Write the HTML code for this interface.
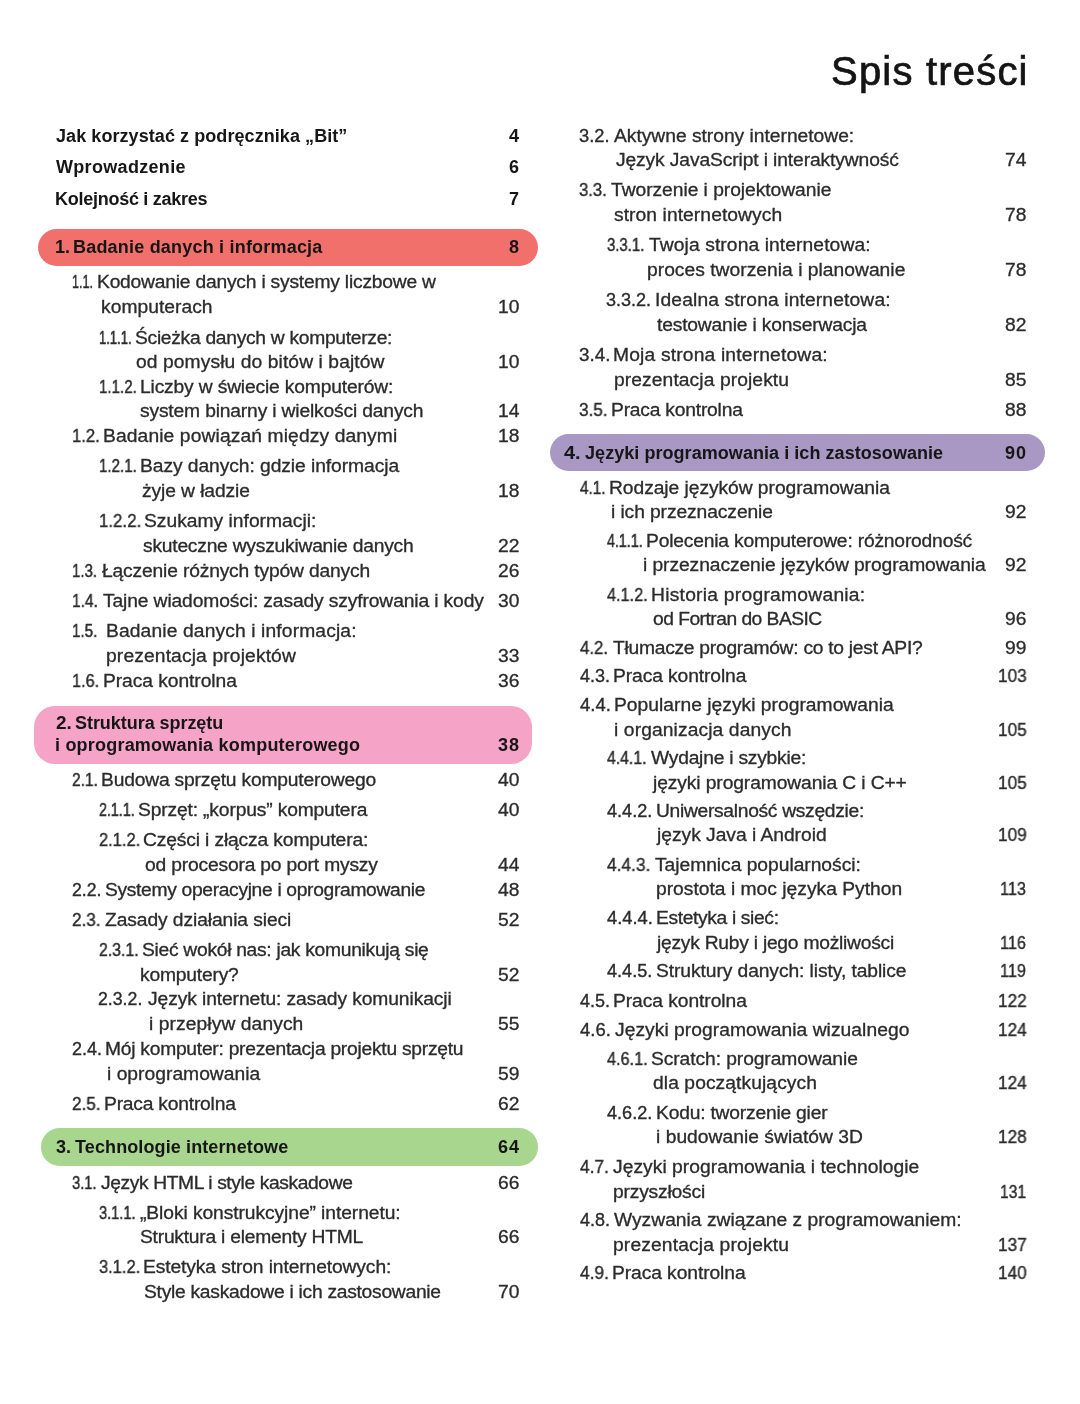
<!DOCTYPE html>
<html lang="pl"><head><meta charset="utf-8"><title>Spis treści</title>
<style>
html,body{margin:0;padding:0;background:#fff}
body{width:1080px;height:1404px;position:relative;overflow:hidden;font-family:"Liberation Sans",sans-serif}
.band{position:absolute}
.r,.b,.t{position:absolute;white-space:pre;transform-origin:0 0;will-change:transform}
.r{font-size:17.5px;line-height:24px;height:24px;color:#2b2b2b;transform:scaleX(1.1);-webkit-text-stroke:0.3px #2b2b2b}
.b{font-size:18.0px;line-height:24px;height:24px;color:#161616;font-weight:700;transform:scaleX(1.0)}
.t{font-size:40.0px;line-height:48px;height:48px;color:#141414;transform:scaleX(1.0);-webkit-text-stroke:0.7px #141414}
</style></head>
<body>
<div class="band" style="left:37.5px;top:228.75px;width:500.5px;height:37.5px;border-radius:18.75px;background:#f2706c"></div>
<div class="band" style="left:33.75px;top:706px;width:498.25px;height:58px;border-radius:21px;background:#f5a3c6"></div>
<div class="band" style="left:40.5px;top:1128.25px;width:497.5px;height:37.5px;border-radius:18.75px;background:#a9d68f"></div>
<div class="band" style="left:550px;top:433.75px;width:495px;height:37.5px;border-radius:18.75px;background:#a898c3"></div>
<div class="b" style="left:56.00px;top:123.51px;letter-spacing:0.070px">Jak korzystać z podręcznika „Bit”</div>
<div class="b" style="left:56.00px;top:154.76px;letter-spacing:0.318px">Wprowadzenie</div>
<div class="b" style="left:55.00px;top:186.76px;letter-spacing:-0.265px">Kolejność i zakres</div>
<div class="b" style="left:55.02px;top:234.76px;letter-spacing:0.000px;transform:scaleX(0.9808)">1.</div>
<div class="b" style="left:72.75px;top:234.76px;letter-spacing:0.202px">Badanie danych i informacja</div>
<div class="r" style="left:72.28px;top:269.94px;letter-spacing:0.000px;transform:scaleX(0.7222);-webkit-text-stroke-width:0.53px">1.1.</div>
<div class="r" style="left:96.90px;top:269.94px;letter-spacing:-0.193px">Kodowanie danych i systemy liczbowe w</div>
<div class="r" style="left:100.65px;top:294.94px;letter-spacing:0.023px">komputerach</div>
<div class="r" style="left:98.76px;top:325.69px;letter-spacing:0.000px;transform:scaleX(0.7440);-webkit-text-stroke-width:0.51px">1.1.1.</div>
<div class="r" style="left:135.15px;top:325.69px;letter-spacing:-0.266px">Ścieżka danych w komputerze:</div>
<div class="r" style="left:136.25px;top:350.19px;letter-spacing:0.079px">od pomysłu do bitów i bajtów</div>
<div class="r" style="left:98.64px;top:374.94px;letter-spacing:0.000px;transform:scaleX(0.8631);-webkit-text-stroke-width:0.44px">1.1.2.</div>
<div class="r" style="left:140.15px;top:374.94px;letter-spacing:-0.150px">Liczby w świecie komputerów:</div>
<div class="r" style="left:139.65px;top:399.44px;letter-spacing:-0.152px">system binarny i wielkości danych</div>
<div class="r" style="left:72.05px;top:424.44px;letter-spacing:0.000px;transform:scaleX(0.9537);-webkit-text-stroke-width:0.39px">1.2.</div>
<div class="r" style="left:103.15px;top:424.44px;letter-spacing:0.100px">Badanie powiązań między danymi</div>
<div class="r" style="left:98.64px;top:454.44px;letter-spacing:0.000px;transform:scaleX(0.8631);-webkit-text-stroke-width:0.44px">1.2.1.</div>
<div class="r" style="left:140.15px;top:454.44px;letter-spacing:-0.063px">Bazy danych: gdzie informacja</div>
<div class="r" style="left:141.75px;top:478.94px;letter-spacing:-0.087px">żyje w ładzie</div>
<div class="r" style="left:98.54px;top:509.44px;letter-spacing:0.000px;transform:scaleX(0.9643);-webkit-text-stroke-width:0.38px">1.2.2.</div>
<div class="r" style="left:144.40px;top:509.44px;letter-spacing:0.005px">Szukamy informacji:</div>
<div class="r" style="left:143.40px;top:533.94px;letter-spacing:-0.211px">skuteczne wyszukiwanie danych</div>
<div class="r" style="left:72.14px;top:558.94px;letter-spacing:0.000px;transform:scaleX(0.8611);-webkit-text-stroke-width:0.44px">1.3.</div>
<div class="r" style="left:101.75px;top:558.94px;letter-spacing:-0.153px">Łączenie różnych typów danych</div>
<div class="r" style="left:72.11px;top:589.44px;letter-spacing:0.000px;transform:scaleX(0.8889);-webkit-text-stroke-width:0.43px">1.4.</div>
<div class="r" style="left:102.50px;top:589.44px;letter-spacing:-0.116px">Tajne wiadomości: zasady szyfrowania i kody</div>
<div class="r" style="left:72.13px;top:619.44px;letter-spacing:0.000px;transform:scaleX(0.8704);-webkit-text-stroke-width:0.44px">1.5.</div>
<div class="r" style="left:106.40px;top:619.44px;letter-spacing:0.111px">Badanie danych i informacja:</div>
<div class="r" style="left:106.40px;top:643.94px;letter-spacing:0.118px">prezentacja projektów</div>
<div class="r" style="left:72.06px;top:668.69px;letter-spacing:0.000px;transform:scaleX(0.9352);-webkit-text-stroke-width:0.40px">1.6.</div>
<div class="r" style="left:102.65px;top:668.69px;letter-spacing:-0.062px">Praca kontrolna</div>
<div class="b" style="left:56.00px;top:710.51px;letter-spacing:0.000px;transform:scaleX(1.0536)">2.</div>
<div class="b" style="left:74.75px;top:710.51px;letter-spacing:-0.047px">Struktura sprzętu</div>
<div class="b" style="left:55.00px;top:732.51px;letter-spacing:0.207px">i oprogramowania komputerowego</div>
<div class="r" style="left:72.11px;top:767.94px;letter-spacing:0.000px;transform:scaleX(0.8889);-webkit-text-stroke-width:0.43px">2.1.</div>
<div class="r" style="left:101.40px;top:767.94px;letter-spacing:-0.173px">Budowa sprzętu komputerowego</div>
<div class="r" style="left:98.68px;top:798.19px;letter-spacing:0.000px;transform:scaleX(0.8155);-webkit-text-stroke-width:0.47px">2.1.1.</div>
<div class="r" style="left:138.15px;top:798.19px;letter-spacing:-0.140px">Sprzęt: „korpus” komputera</div>
<div class="r" style="left:98.56px;top:828.19px;letter-spacing:0.000px;transform:scaleX(0.9405);-webkit-text-stroke-width:0.40px">2.1.2.</div>
<div class="r" style="left:143.40px;top:828.19px;letter-spacing:-0.131px">Części i złącza komputera:</div>
<div class="r" style="left:144.50px;top:853.19px;letter-spacing:-0.167px">od procesora po port myszy</div>
<div class="r" style="left:71.99px;top:877.69px;letter-spacing:0.000px;transform:scaleX(1.0093);-webkit-text-stroke-width:0.35px">2.2.</div>
<div class="r" style="left:104.65px;top:877.69px;letter-spacing:-0.301px">Systemy operacyjne i oprogramowanie</div>
<div class="r" style="left:72.02px;top:907.69px;letter-spacing:0.000px;transform:scaleX(0.9815);-webkit-text-stroke-width:0.37px">2.3.</div>
<div class="r" style="left:105.00px;top:907.69px;letter-spacing:-0.087px">Zasady działania sieci</div>
<div class="r" style="left:98.60px;top:938.19px;letter-spacing:0.000px;transform:scaleX(0.9048);-webkit-text-stroke-width:0.42px">2.3.1.</div>
<div class="r" style="left:141.90px;top:938.19px;letter-spacing:-0.263px">Sieć wokół nas: jak komunikują się</div>
<div class="r" style="left:139.65px;top:962.69px;letter-spacing:-0.177px">komputery?</div>
<div class="r" style="left:98.49px;top:987.44px;letter-spacing:0.000px;transform:scaleX(1.0119);-webkit-text-stroke-width:0.35px">2.3.2.</div>
<div class="r" style="left:147.50px;top:987.44px;letter-spacing:-0.088px">Język internetu: zasady komunikacji</div>
<div class="r" style="left:148.90px;top:1011.94px;letter-spacing:0.074px">i przepływ danych</div>
<div class="r" style="left:71.97px;top:1036.94px;letter-spacing:0.000px;transform:scaleX(1.0278);-webkit-text-stroke-width:0.34px">2.4.</div>
<div class="r" style="left:105.15px;top:1036.94px;letter-spacing:-0.236px">Mój komputer: prezentacja projektu sprzętu</div>
<div class="r" style="left:106.90px;top:1061.69px;letter-spacing:0.012px">i oprogramowania</div>
<div class="r" style="left:72.02px;top:1092.19px;letter-spacing:0.000px;transform:scaleX(0.9815);-webkit-text-stroke-width:0.37px">2.5.</div>
<div class="r" style="left:103.90px;top:1092.19px;letter-spacing:-0.192px">Praca kontrolna</div>
<div class="b" style="left:56.00px;top:1134.51px;letter-spacing:0.000px;transform:scaleX(1.0000)">3.</div>
<div class="b" style="left:75.00px;top:1134.51px;letter-spacing:0.114px">Technologie internetowe</div>
<div class="r" style="left:72.16px;top:1170.94px;letter-spacing:0.000px;transform:scaleX(0.8426);-webkit-text-stroke-width:0.45px">3.1.</div>
<div class="r" style="left:101.25px;top:1170.94px;letter-spacing:-0.355px">Język HTML i style kaskadowe</div>
<div class="r" style="left:98.67px;top:1200.94px;letter-spacing:0.000px;transform:scaleX(0.8333);-webkit-text-stroke-width:0.46px">3.1.1.</div>
<div class="r" style="left:140.00px;top:1200.94px;letter-spacing:-0.075px">„Bloki konstrukcyjne” internetu:</div>
<div class="r" style="left:140.15px;top:1225.44px;letter-spacing:-0.216px">Struktura i elementy HTML</div>
<div class="r" style="left:98.56px;top:1255.44px;letter-spacing:0.000px;transform:scaleX(0.9405);-webkit-text-stroke-width:0.40px">3.1.2.</div>
<div class="r" style="left:143.40px;top:1255.44px;letter-spacing:-0.101px">Estetyka stron internetowych:</div>
<div class="r" style="left:143.90px;top:1280.19px;letter-spacing:-0.247px">Style kaskadowe i ich zastosowanie</div>
<div class="r" style="left:578.95px;top:123.69px;letter-spacing:0.000px;transform:scaleX(1.0463);-webkit-text-stroke-width:0.33px">3.2.</div>
<div class="r" style="left:613.75px;top:123.69px;letter-spacing:-0.019px">Aktywne strony internetowe:</div>
<div class="r" style="left:615.50px;top:148.19px;letter-spacing:-0.109px">Język JavaScript i interaktywność</div>
<div class="r" style="left:579.05px;top:178.19px;letter-spacing:0.000px;transform:scaleX(0.9537);-webkit-text-stroke-width:0.39px">3.3.</div>
<div class="r" style="left:611.25px;top:178.19px;letter-spacing:-0.042px">Tworzenie i projektowanie</div>
<div class="r" style="left:613.90px;top:202.69px;letter-spacing:0.063px">stron internetowych</div>
<div class="r" style="left:606.65px;top:233.19px;letter-spacing:0.000px;transform:scaleX(0.8512);-webkit-text-stroke-width:0.45px">3.3.1.</div>
<div class="r" style="left:648.75px;top:233.19px;letter-spacing:0.083px">Twoja strona internetowa:</div>
<div class="r" style="left:647.15px;top:257.69px;letter-spacing:0.015px">proces tworzenia i planowanie</div>
<div class="r" style="left:606.47px;top:288.19px;letter-spacing:0.000px;transform:scaleX(1.0298);-webkit-text-stroke-width:0.34px">3.3.2.</div>
<div class="r" style="left:655.15px;top:288.19px;letter-spacing:0.117px">Idealna strona internetowa:</div>
<div class="r" style="left:657.00px;top:312.69px;letter-spacing:-0.158px">testowanie i konserwacja</div>
<div class="r" style="left:578.93px;top:342.69px;letter-spacing:0.000px;transform:scaleX(1.0741);-webkit-text-stroke-width:0.32px">3.4.</div>
<div class="r" style="left:613.40px;top:342.69px;letter-spacing:0.152px">Moja strona internetowa:</div>
<div class="r" style="left:613.90px;top:367.69px;letter-spacing:0.079px">prezentacja projektu</div>
<div class="r" style="left:579.02px;top:398.19px;letter-spacing:0.000px;transform:scaleX(0.9815);-webkit-text-stroke-width:0.37px">3.5.</div>
<div class="r" style="left:610.90px;top:398.19px;letter-spacing:-0.192px">Praca kontrolna</div>
<div class="b" style="left:564.00px;top:440.51px;letter-spacing:0.000px;transform:scaleX(1.1071)">4.</div>
<div class="b" style="left:584.50px;top:440.51px;letter-spacing:0.053px">Języki programowania i ich zastosowanie</div>
<div class="r" style="left:580.00px;top:475.69px;letter-spacing:0.000px;transform:scaleX(0.8750);-webkit-text-stroke-width:0.44px">4.1.</div>
<div class="r" style="left:608.90px;top:475.69px;letter-spacing:-0.052px">Rodzaje języków programowania</div>
<div class="r" style="left:611.40px;top:500.19px;letter-spacing:-0.086px">i ich przeznaczenie</div>
<div class="r" style="left:607.00px;top:528.69px;letter-spacing:0.000px;transform:scaleX(0.8140);-webkit-text-stroke-width:0.47px">4.1.1.</div>
<div class="r" style="left:646.40px;top:528.69px;letter-spacing:-0.176px">Polecenia komputerowe: różnorodność</div>
<div class="r" style="left:643.40px;top:553.19px;letter-spacing:-0.073px">i przeznaczenie języków programowania</div>
<div class="r" style="left:607.00px;top:582.69px;letter-spacing:0.000px;transform:scaleX(0.9302);-webkit-text-stroke-width:0.40px">4.1.2.</div>
<div class="r" style="left:651.40px;top:582.69px;letter-spacing:0.229px">Historia programowania:</div>
<div class="r" style="left:652.50px;top:606.94px;letter-spacing:-0.477px">od Fortran do BASIC</div>
<div class="r" style="left:580.00px;top:636.19px;letter-spacing:0.000px;transform:scaleX(0.9643);-webkit-text-stroke-width:0.38px">4.2.</div>
<div class="r" style="left:612.50px;top:636.19px;letter-spacing:-0.245px">Tłumacze programów: co to jest API?</div>
<div class="r" style="left:580.00px;top:664.44px;letter-spacing:0.000px;transform:scaleX(1.0268);-webkit-text-stroke-width:0.34px">4.3.</div>
<div class="r" style="left:613.15px;top:664.44px;letter-spacing:-0.094px">Praca kontrolna</div>
<div class="r" style="left:580.00px;top:693.19px;letter-spacing:0.000px;transform:scaleX(1.0536);-webkit-text-stroke-width:0.33px">4.4.</div>
<div class="r" style="left:613.90px;top:693.19px;letter-spacing:0.014px">Popularne języki programowania</div>
<div class="r" style="left:613.90px;top:717.69px;letter-spacing:0.093px">i organizacja danych</div>
<div class="r" style="left:607.00px;top:746.19px;letter-spacing:0.000px;transform:scaleX(0.9012);-webkit-text-stroke-width:0.42px">4.4.1.</div>
<div class="r" style="left:651.25px;top:746.19px;letter-spacing:-0.209px">Wydajne i szybkie:</div>
<div class="r" style="left:652.85px;top:770.69px;letter-spacing:-0.098px">języki programowania C i C++</div>
<div class="r" style="left:607.00px;top:798.69px;letter-spacing:0.000px;transform:scaleX(1.0349);-webkit-text-stroke-width:0.34px">4.4.2.</div>
<div class="r" style="left:655.90px;top:798.69px;letter-spacing:-0.281px">Uniwersalność wszędzie:</div>
<div class="r" style="left:657.35px;top:823.19px;letter-spacing:-0.024px">język Java i Android</div>
<div class="r" style="left:607.00px;top:853.19px;letter-spacing:0.000px;transform:scaleX(0.9884);-webkit-text-stroke-width:0.37px">4.4.3.</div>
<div class="r" style="left:655.00px;top:853.19px;letter-spacing:-0.029px">Tajemnica popularności:</div>
<div class="r" style="left:655.90px;top:877.44px;letter-spacing:0.002px">prostota i moc języka Python</div>
<div class="r" style="left:607.00px;top:905.69px;letter-spacing:0.000px;transform:scaleX(1.0465);-webkit-text-stroke-width:0.33px">4.4.4.</div>
<div class="r" style="left:656.40px;top:905.69px;letter-spacing:-0.327px">Estetyka i sieć:</div>
<div class="r" style="left:657.35px;top:930.69px;letter-spacing:-0.226px">język Ruby i jego możliwości</div>
<div class="r" style="left:607.00px;top:959.44px;letter-spacing:0.000px;transform:scaleX(1.0349);-webkit-text-stroke-width:0.34px">4.4.5.</div>
<div class="r" style="left:655.90px;top:959.44px;letter-spacing:-0.078px">Struktury danych: listy, tablice</div>
<div class="r" style="left:580.00px;top:989.44px;letter-spacing:0.000px;transform:scaleX(1.0268);-webkit-text-stroke-width:0.34px">4.5.</div>
<div class="r" style="left:613.15px;top:989.44px;letter-spacing:-0.062px">Praca kontrolna</div>
<div class="r" style="left:580.00px;top:1017.69px;letter-spacing:0.000px;transform:scaleX(1.0536);-webkit-text-stroke-width:0.33px">4.6.</div>
<div class="r" style="left:615.00px;top:1017.69px;letter-spacing:0.035px">Języki programowania wizualnego</div>
<div class="r" style="left:607.00px;top:1046.94px;letter-spacing:0.000px;transform:scaleX(0.9302);-webkit-text-stroke-width:0.40px">4.6.1.</div>
<div class="r" style="left:651.40px;top:1046.94px;letter-spacing:-0.078px">Scratch: programowanie</div>
<div class="r" style="left:652.50px;top:1070.94px;letter-spacing:0.070px">dla początkujących</div>
<div class="r" style="left:607.00px;top:1101.44px;letter-spacing:0.000px;transform:scaleX(1.0349);-webkit-text-stroke-width:0.34px">4.6.2.</div>
<div class="r" style="left:655.90px;top:1101.44px;letter-spacing:-0.187px">Kodu: tworzenie gier</div>
<div class="r" style="left:656.40px;top:1125.44px;letter-spacing:0.017px">i budowanie światów 3D</div>
<div class="r" style="left:580.00px;top:1154.69px;letter-spacing:0.000px;transform:scaleX(0.9911);-webkit-text-stroke-width:0.37px">4.7.</div>
<div class="r" style="left:613.25px;top:1154.69px;letter-spacing:0.036px">Języki programowania i technologie</div>
<div class="r" style="left:613.40px;top:1179.69px;letter-spacing:-0.173px">przyszłości</div>
<div class="r" style="left:580.00px;top:1208.44px;letter-spacing:0.000px;transform:scaleX(1.0268);-webkit-text-stroke-width:0.34px">4.8.</div>
<div class="r" style="left:614.25px;top:1208.44px;letter-spacing:0.000px">Wyzwania związane z programowaniem:</div>
<div class="r" style="left:613.40px;top:1232.69px;letter-spacing:0.127px">prezentacja projektu</div>
<div class="r" style="left:580.00px;top:1260.94px;letter-spacing:0.000px;transform:scaleX(0.9911);-webkit-text-stroke-width:0.37px">4.9.</div>
<div class="r" style="left:612.15px;top:1260.94px;letter-spacing:-0.078px">Praca kontrolna</div>
<div class="b" style="left:508.75px;top:123.51px;letter-spacing:0.000px">4</div>
<div class="b" style="left:508.75px;top:154.76px;letter-spacing:0.000px">6</div>
<div class="b" style="left:508.75px;top:186.76px;letter-spacing:0.000px">7</div>
<div class="b" style="left:508.75px;top:234.76px;letter-spacing:0.000px">8</div>
<div class="r" style="left:497.85px;top:294.94px;letter-spacing:0.000px">10</div>
<div class="r" style="left:497.85px;top:350.19px;letter-spacing:0.000px">10</div>
<div class="r" style="left:497.85px;top:399.44px;letter-spacing:0.000px">14</div>
<div class="r" style="left:497.85px;top:424.44px;letter-spacing:0.000px">18</div>
<div class="r" style="left:497.85px;top:478.94px;letter-spacing:0.000px">18</div>
<div class="r" style="left:497.85px;top:533.94px;letter-spacing:0.000px">22</div>
<div class="r" style="left:497.85px;top:558.94px;letter-spacing:0.000px">26</div>
<div class="r" style="left:497.85px;top:589.44px;letter-spacing:0.000px">30</div>
<div class="r" style="left:497.85px;top:643.94px;letter-spacing:0.000px">33</div>
<div class="r" style="left:497.85px;top:668.69px;letter-spacing:0.000px">36</div>
<div class="b" style="left:497.75px;top:732.51px;letter-spacing:1.000px">38</div>
<div class="r" style="left:497.85px;top:767.94px;letter-spacing:0.000px">40</div>
<div class="r" style="left:497.85px;top:798.19px;letter-spacing:0.000px">40</div>
<div class="r" style="left:497.85px;top:853.19px;letter-spacing:0.000px">44</div>
<div class="r" style="left:497.85px;top:877.69px;letter-spacing:0.000px">48</div>
<div class="r" style="left:497.85px;top:907.69px;letter-spacing:0.000px">52</div>
<div class="r" style="left:497.85px;top:962.69px;letter-spacing:0.000px">52</div>
<div class="r" style="left:497.85px;top:1011.94px;letter-spacing:0.000px">55</div>
<div class="r" style="left:497.85px;top:1061.69px;letter-spacing:0.000px">59</div>
<div class="r" style="left:497.85px;top:1092.19px;letter-spacing:0.000px">62</div>
<div class="b" style="left:497.75px;top:1134.51px;letter-spacing:1.000px">64</div>
<div class="r" style="left:497.85px;top:1170.94px;letter-spacing:0.000px">66</div>
<div class="r" style="left:497.85px;top:1225.44px;letter-spacing:0.000px">66</div>
<div class="r" style="left:497.85px;top:1280.19px;letter-spacing:0.000px">70</div>
<div class="r" style="left:1005.35px;top:148.19px;letter-spacing:0.000px">74</div>
<div class="r" style="left:1005.35px;top:202.69px;letter-spacing:0.000px">78</div>
<div class="r" style="left:1005.35px;top:257.69px;letter-spacing:0.000px">78</div>
<div class="r" style="left:1005.35px;top:312.69px;letter-spacing:0.000px">82</div>
<div class="r" style="left:1005.35px;top:367.69px;letter-spacing:0.000px">85</div>
<div class="r" style="left:1005.35px;top:398.19px;letter-spacing:0.000px">88</div>
<div class="b" style="left:1005.25px;top:440.51px;letter-spacing:1.000px">90</div>
<div class="r" style="left:1005.35px;top:500.19px;letter-spacing:0.000px">92</div>
<div class="r" style="left:1005.35px;top:553.19px;letter-spacing:0.000px">92</div>
<div class="r" style="left:1005.35px;top:606.94px;letter-spacing:0.000px">96</div>
<div class="r" style="left:1005.35px;top:636.19px;letter-spacing:0.000px">99</div>
<div class="r" style="left:997.77px;top:664.44px;letter-spacing:0.000px;transform:scaleX(0.9821);-webkit-text-stroke-width:0.37px">103</div>
<div class="r" style="left:997.77px;top:717.69px;letter-spacing:0.000px;transform:scaleX(0.9821);-webkit-text-stroke-width:0.37px">105</div>
<div class="r" style="left:997.77px;top:770.69px;letter-spacing:0.000px;transform:scaleX(0.9821);-webkit-text-stroke-width:0.37px">105</div>
<div class="r" style="left:997.77px;top:823.19px;letter-spacing:0.000px;transform:scaleX(0.9821);-webkit-text-stroke-width:0.37px">109</div>
<div class="r" style="left:1000.32px;top:877.44px;letter-spacing:0.000px;transform:scaleX(0.9259);-webkit-text-stroke-width:0.40px">113</div>
<div class="r" style="left:1000.32px;top:930.69px;letter-spacing:0.000px;transform:scaleX(0.9259);-webkit-text-stroke-width:0.40px">116</div>
<div class="r" style="left:1000.32px;top:959.44px;letter-spacing:0.000px;transform:scaleX(0.9259);-webkit-text-stroke-width:0.40px">119</div>
<div class="r" style="left:997.77px;top:989.44px;letter-spacing:0.000px;transform:scaleX(0.9821);-webkit-text-stroke-width:0.37px">122</div>
<div class="r" style="left:997.77px;top:1017.69px;letter-spacing:0.000px;transform:scaleX(0.9821);-webkit-text-stroke-width:0.37px">124</div>
<div class="r" style="left:997.77px;top:1070.94px;letter-spacing:0.000px;transform:scaleX(0.9821);-webkit-text-stroke-width:0.37px">124</div>
<div class="r" style="left:997.77px;top:1125.44px;letter-spacing:0.000px;transform:scaleX(0.9821);-webkit-text-stroke-width:0.37px">128</div>
<div class="r" style="left:1000.36px;top:1179.69px;letter-spacing:0.000px;transform:scaleX(0.8929);-webkit-text-stroke-width:0.42px">131</div>
<div class="r" style="left:997.77px;top:1232.69px;letter-spacing:0.000px;transform:scaleX(0.9821);-webkit-text-stroke-width:0.37px">137</div>
<div class="r" style="left:997.77px;top:1260.94px;letter-spacing:0.000px;transform:scaleX(0.9821);-webkit-text-stroke-width:0.37px">140</div>
<div class="t" style="left:830.50px;top:47.14px;letter-spacing:1.200px">Spis treści</div>
</body></html>
